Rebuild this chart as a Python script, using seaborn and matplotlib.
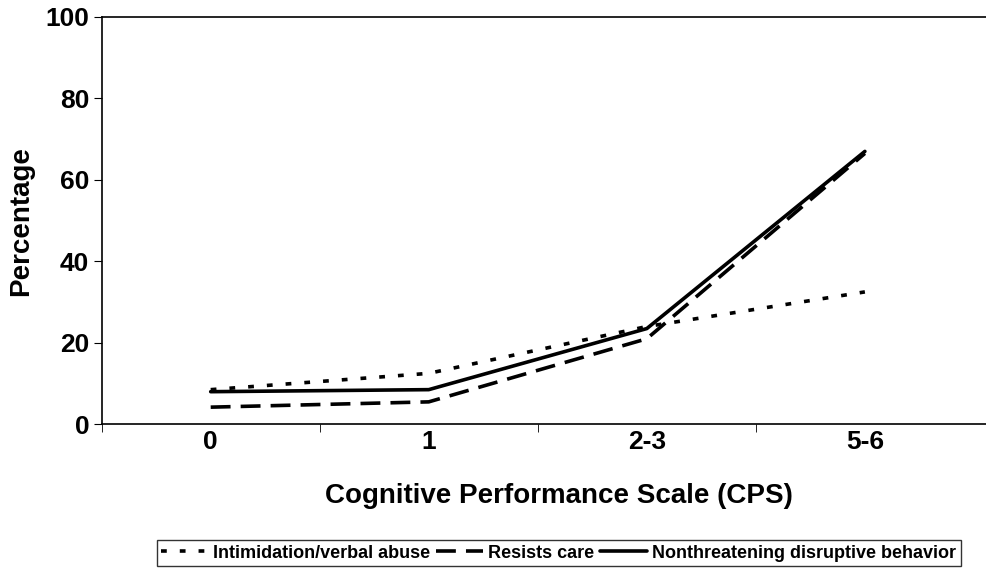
import pandas as pd
import seaborn as sns
import matplotlib.pyplot as plt

cps = ["0", "1", "2-3", "5-6"]
intimidation = [8.5, 12.5, 24.0, 32.5]
resists = [4.2, 5.5, 21.0, 66.5]
nonthreat = [8.0, 8.5, 23.5, 67.0]

names = ["Intimidation/verbal abuse", "Resists care", "Nonthreatening disruptive behavior"]

df = pd.DataFrame({
    "cps": cps * 3,
    "pct": intimidation + resists + nonthreat,
    "behavior": [names[0]] * 4 + [names[1]] * 4 + [names[2]] * 4,
})

sns.set_style("white")
plt.rcParams['font.family'] = ['Liberation Sans', 'DejaVu Sans']
plt.rcParams.update({"text.color": "black", "axes.labelcolor": "black",
                     "xtick.color": "black", "ytick.color": "black"})

fig = plt.figure(figsize=(9.87, 5.86), dpi=100)
ax = fig.add_axes([0.103, 0.276, 0.897, 0.695])

dot = (1.6, 3.6)
dash = (5.5, 2.8)
sns.lineplot(data=df, x="cps", y="pct", hue="behavior", style="behavior",
             palette=["black"] * 3, dashes={names[0]: dot, names[1]: dash, names[2]: ""},
             linewidth=2.6, sort=False, ax=ax, legend=False)

ax.set_xlim(-0.5, 3.56)
ax.set_ylim(0, 100)
ax.set_yticks([0, 20, 40, 60, 80, 100])
ax.set_xticks([0, 1, 2, 3])
ax.set_xticklabels(cps)
ax.set_xticks([-0.5, 0.5, 1.5, 2.5], minor=True)
ax.tick_params(axis="x", which="major", length=0, pad=4, labelsize=19)
ax.tick_params(axis="x", which="minor", length=6, direction="out", color="black", bottom=True)
ax.tick_params(axis="y", length=6, direction="out", color="black", left=True, labelsize=19, pad=3)
for lab in ax.get_xticklabels() + ax.get_yticklabels():
    lab.set_fontweight("bold")

ax.spines["right"].set_visible(False)
for s in ["left", "bottom", "top"]:
    ax.spines[s].set_color("black")
    ax.spines[s].set_linewidth(1.2)

ax.set_xlabel("Cognitive Performance Scale (CPS)", fontsize=20, fontweight="bold")
ax.xaxis.set_label_coords(0.517, -0.145)
ax.set_ylabel("Percentage", fontsize=20, fontweight="bold", labelpad=8)

handles = [plt.Line2D([], [], color="black", lw=2.6, dashes=dot),
           plt.Line2D([], [], color="black", lw=2.6, dashes=dash),
           plt.Line2D([], [], color="black", lw=2.6)]
leg = fig.legend(handles, names, loc="center", bbox_to_anchor=(0.566, 0.056), ncol=3,
                 frameon=True, fancybox=False, edgecolor="black", handlelength=2.6,
                 handletextpad=0.3, columnspacing=0.3, borderpad=0.25,
                 prop={"weight": "bold", "size": 13})
leg.get_frame().set_linewidth(1.0)

plt.savefig("out.png", dpi=100)
